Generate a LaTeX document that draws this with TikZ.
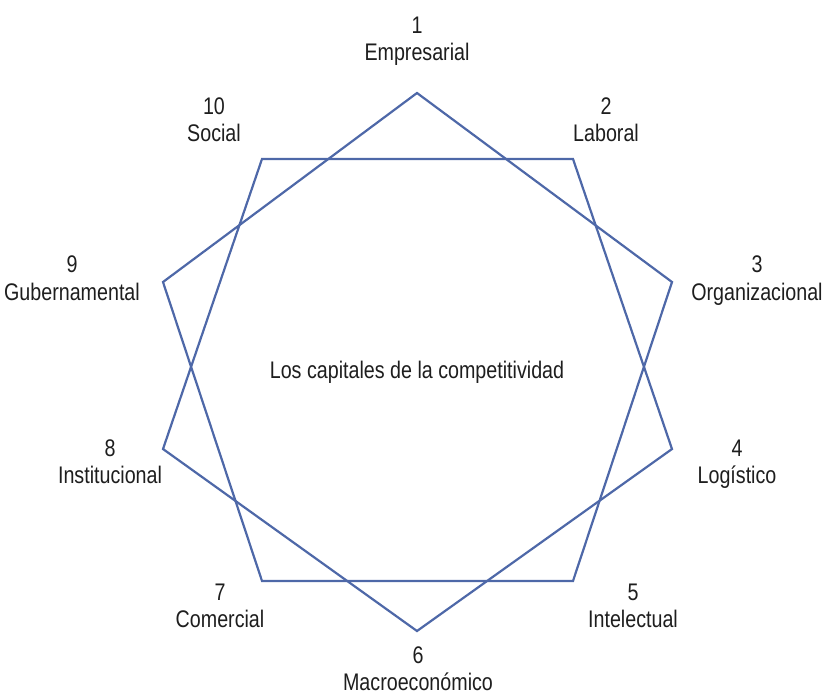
\documentclass[tikz,border=0pt]{standalone}
\usepackage{fontspec}
\setmainfont{Liberation Sans}[FakeStretch=0.82]
\definecolor{starblue}{RGB}{78,104,168}
\definecolor{labeltext}{RGB}{30,30,30}
\begin{document}
\begin{tikzpicture}[x=1pt,y=-1pt,
  edge/.style={draw=starblue, line width=2.2pt, line join=miter},
  lbl/.style={anchor=base, inner sep=0pt, text=labeltext,
              font=\fontsize{24}{28}\selectfont},
  title/.style={anchor=base, inner sep=0pt, text=labeltext,
                font=\fontsize{24}{28}\selectfont}]
  \useasboundingbox (0,0) rectangle (825,694);

  % corners of the two interlaced pentagons
  \coordinate (v1) at (417,93);
  \coordinate (v2) at (573,159);
  \coordinate (v3) at (672,282);
  \coordinate (v4) at (672,449);
  \coordinate (v5) at (573,581);
  \coordinate (v6) at (417,631);
  \coordinate (v7) at (262,581);
  \coordinate (v8) at (163,449);
  \coordinate (v9) at (163,282);
  \coordinate (v10) at (262,159);

  % odd pentagon (pointing up) and even pentagon (pointing down)
  \draw[edge] (v1) -- (v3) -- (v5) -- (v7) -- (v9) -- cycle;
  \draw[edge] (v2) -- (v4) -- (v6) -- (v8) -- (v10) -- cycle;

  % centre caption
  \node[title] (centre) at (417,378) {Los capitales de la competitividad};

  % numbered capitals
  \node[lbl] (n1) at (417,33) {1};
  \node[lbl] (t1) at (417,60) {Empresarial};
  \node[lbl] (n2) at (606,114) {2};
  \node[lbl] (t2) at (606,141) {Laboral};
  \node[lbl] (n3) at (757,272) {3};
  \node[lbl] (t3) at (757,300) {Organizacional};
  \node[lbl] (n4) at (737,456) {4};
  \node[lbl] (t4) at (737,483) {Logístico};
  \node[lbl] (n5) at (633,600) {5};
  \node[lbl] (t5) at (633,627) {Intelectual};
  \node[lbl] (n6) at (418,663) {6};
  \node[lbl] (t6) at (418,690) {Macroeconómico};
  \node[lbl] (n7) at (220,600) {7};
  \node[lbl] (t7) at (220,627) {Comercial};
  \node[lbl] (n8) at (110,456) {8};
  \node[lbl] (t8) at (110,483) {Institucional};
  \node[lbl] (n9) at (72,272) {9};
  \node[lbl] (t9) at (72,300) {Gubernamental};
  \node[lbl] (n10) at (214,114) {10};
  \node[lbl] (t10) at (214,141) {Social};
\end{tikzpicture}
\end{document}
